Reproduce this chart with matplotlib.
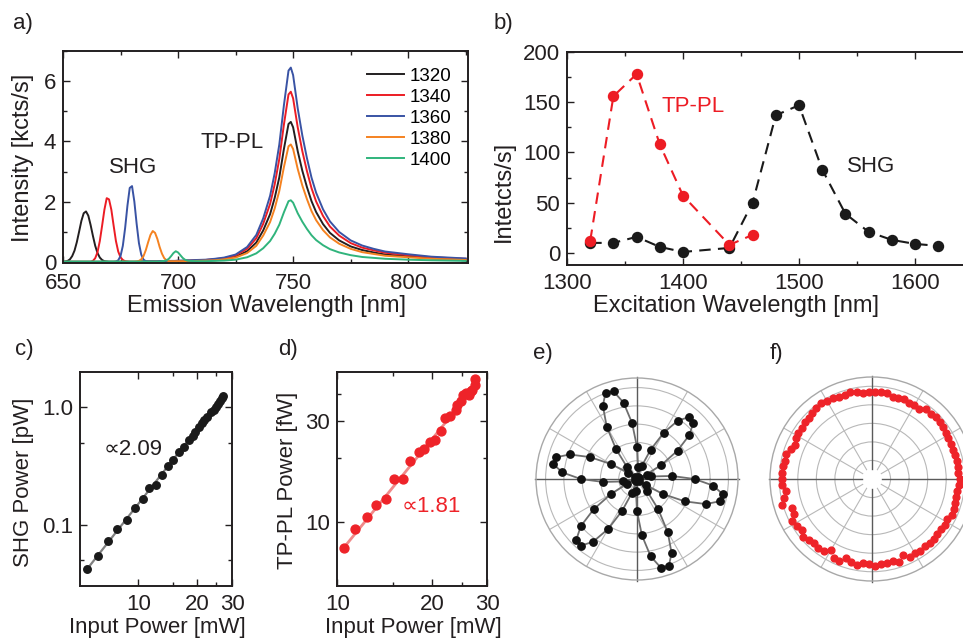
import numpy as np
import matplotlib
matplotlib.use('Agg')
import matplotlib.pyplot as plt
from matplotlib.ticker import MultipleLocator, FixedLocator, NullFormatter, FixedFormatter

plt.rcParams['font.family'] = ['Liberation Sans', 'DejaVu Sans']

# ---------------- panel a: emission spectra ----------------
wl = list(range(650, 706)) + [708, 712, 716, 720, 725, 730, 734, 737, 740, 742, 744, 746, 748,
                              749, 750, 752, 754, 756, 758, 760, 763, 766, 770, 775, 780, 785,
                              790, 800, 810, 825]
spec_labels = ['1320', '1340', '1360', '1380', '1400']
spec_colors = ['#231f20', '#ec1c24', '#3953a4', '#f58220', '#30b47c']

i_1320 = [0.01, 0.02, 0.04, 0.09, 0.20, 0.38, 0.66, 1.01, 1.37, 1.62,
          1.68, 1.54, 1.23, 0.87, 0.54, 0.30, 0.15, 0.07, 0.03, 0.02,
          0.01, 0.01, 0.01, 0.01, 0.01, 0.01, 0.01, 0.01, 0.01, 0.01,
          0.01, 0.01, 0.01, 0.01, 0.02, 0.02, 0.02, 0.02, 0.02, 0.02,
          0.02, 0.02, 0.02, 0.02, 0.02, 0.03, 0.03, 0.03, 0.03, 0.03,
          0.03, 0.03, 0.04, 0.04, 0.04, 0.04,
          0.05, 0.06, 0.08, 0.11, 0.18, 0.36, 0.65, 1.05, 1.59, 2.13,
          2.81, 3.75, 4.58, 4.65, 4.47, 3.68, 3.03, 2.49, 2.02, 1.66,
          1.26, 0.97, 0.72, 0.52, 0.40, 0.32, 0.25, 0.19, 0.13, 0.09]
i_1340 = [0.01, 0.01, 0.01, 0.01, 0.01, 0.01, 0.01, 0.01, 0.01, 0.01,
          0.01, 0.01, 0.01, 0.04, 0.13, 0.33, 0.70, 1.21, 1.74, 2.12,
          2.08, 1.74, 1.21, 0.70, 0.35, 0.16, 0.07, 0.03, 0.02, 0.01,
          0.01, 0.01, 0.01, 0.01, 0.02, 0.02, 0.02, 0.02, 0.02, 0.02,
          0.02, 0.02, 0.02, 0.02, 0.03, 0.03, 0.03, 0.03, 0.03, 0.04,
          0.04, 0.04, 0.04, 0.05, 0.05, 0.05,
          0.06, 0.07, 0.10, 0.13, 0.22, 0.44, 0.79, 1.27, 1.93, 2.58,
          3.42, 4.56, 5.56, 5.65, 5.43, 4.47, 3.68, 3.02, 2.45, 2.01,
          1.53, 1.18, 0.88, 0.63, 0.48, 0.39, 0.31, 0.23, 0.16, 0.11]
i_1360 = [0.01, 0.01, 0.01, 0.01, 0.01, 0.01, 0.01, 0.01, 0.01, 0.01,
          0.01, 0.01, 0.01, 0.01, 0.01, 0.01, 0.01, 0.01, 0.01, 0.01,
          0.01, 0.01, 0.01, 0.02, 0.06, 0.20, 0.54, 1.13, 1.87, 2.46,
          2.52, 2.01, 1.27, 0.63, 0.25, 0.08, 0.03, 0.02, 0.02, 0.02,
          0.02, 0.02, 0.03, 0.03, 0.03, 0.03, 0.04, 0.04, 0.04, 0.04,
          0.05, 0.05, 0.05, 0.06, 0.06, 0.06,
          0.07, 0.08, 0.11, 0.15, 0.25, 0.50, 0.90, 1.45, 2.20, 2.95,
          3.90, 5.20, 6.35, 6.45, 6.20, 5.10, 4.20, 3.45, 2.80, 2.30,
          1.75, 1.35, 1.00, 0.72, 0.55, 0.44, 0.35, 0.26, 0.18, 0.12]
i_1380 = [0.01, 0.01, 0.01, 0.01, 0.01, 0.01, 0.01, 0.01, 0.01, 0.01,
          0.01, 0.01, 0.01, 0.01, 0.01, 0.01, 0.01, 0.01, 0.01, 0.01,
          0.01, 0.01, 0.01, 0.01, 0.01, 0.01, 0.01, 0.01, 0.01, 0.01,
          0.01, 0.01, 0.02, 0.04, 0.09, 0.20, 0.40, 0.66, 0.90, 1.03,
          0.97, 0.77, 0.50, 0.28, 0.13, 0.06, 0.03, 0.03, 0.03, 0.03,
          0.03, 0.03, 0.03, 0.03, 0.04, 0.04,
          0.04, 0.05, 0.06, 0.09, 0.15, 0.30, 0.54, 0.88, 1.33, 1.78,
          2.36, 3.15, 3.84, 3.90, 3.75, 3.09, 2.54, 2.09, 1.69, 1.39,
          1.06, 0.82, 0.61, 0.44, 0.33, 0.27, 0.21, 0.16, 0.11, 0.07]
i_1400 = [0.02, 0.02, 0.02, 0.02, 0.02, 0.02, 0.02, 0.02, 0.02, 0.02,
          0.02, 0.02, 0.02, 0.02, 0.02, 0.02, 0.02, 0.02, 0.02, 0.02,
          0.02, 0.02, 0.02, 0.02, 0.02, 0.02, 0.02, 0.02, 0.02, 0.02,
          0.02, 0.02, 0.02, 0.02, 0.02, 0.02, 0.02, 0.02, 0.02, 0.02,
          0.02, 0.02, 0.02, 0.03, 0.04, 0.06, 0.11, 0.20, 0.30, 0.36,
          0.32, 0.23, 0.14, 0.08, 0.05, 0.04,
          0.03, 0.03, 0.04, 0.05, 0.08, 0.16, 0.29, 0.46, 0.70, 0.94,
          1.24, 1.65, 2.02, 2.05, 1.97, 1.62, 1.34, 1.10, 0.89, 0.73,
          0.56, 0.43, 0.32, 0.23, 0.17, 0.14, 0.11, 0.08, 0.06, 0.04]
spectra = [i_1320, i_1340, i_1360, i_1380, i_1400]

# ---------------- panel b: excitation dependence ----------------
shg_x = [1320, 1340, 1360, 1380, 1400, 1440, 1460, 1480, 1500, 1520, 1540, 1560, 1580, 1600, 1620]
shg_y = [10, 10, 16, 6, 1, 5, 50, 137, 147, 83, 39, 21, 13, 9, 7]
tppl_x = [1320, 1340, 1360, 1380, 1400, 1440, 1460]
tppl_y = [12, 156, 178, 108, 57, 8, 18]

# ---------------- panel c: SHG power dependence ----------------
c_pin = [5.47, 6.22, 6.99, 7.83, 8.73, 9.66, 10.6, 11.4, 12.25, 13.2, 14.2, 15.05, 16.1, 17.0,
         18.1, 18.9, 19.5, 20.3, 21.0, 21.6, 22.5, 23.5, 24.3, 24.9, 25.4, 26.1, 26.6, 27.1]
c_shg = [0.0415, 0.054, 0.073, 0.0914, 0.109, 0.139, 0.166, 0.205, 0.218, 0.265, 0.318, 0.358,
         0.42, 0.463, 0.525, 0.571, 0.62, 0.684, 0.735, 0.785, 0.82, 0.912, 0.943, 1.0, 1.07,
         1.14, 1.2, 1.26]
c_fit_p = [5.47, 27.1]
c_fit_s = [0.0415, 1.26]

# ---------------- panel d: TP-PL power dependence ----------------
d_pin = [10.5, 11.4, 12.4, 13.3, 14.3, 15.2, 16.2, 17.1, 18.2, 18.9, 19.8, 20.5, 21.4, 22.1,
         22.9, 23.9, 24.1, 24.8, 25.2, 25.7, 26.3, 26.7, 26.9, 27.4, 27.4]
d_pl = [7.56, 9.33, 10.56, 12.1, 12.9, 15.9, 15.9, 19.45, 21.3, 22.2, 23.9, 24.4, 27.0, 30.9,
        31.7, 33.6, 35.5, 37.1, 39.6, 40.6, 39.8, 41.3, 42.1, 44.1, 47.5]
d_fit_p = [10.5, 27.4]
d_fit_s = [7.6, 43.5]

# ---------------- panel e: SHG polarization (6-fold) ----------------
e_theta_deg = np.arange(0, 360, 5)
e_r = [0.57, 0.345, 0.144, 0.02, 0.01, 0.104, 0.28, 0.49, 0.676, 0.79, 0.80, 0.706,
       0.53, 0.32, 0.134, 0.02, 0.01, 0.118, 0.317, 0.556, 0.768, 0.898, 0.91, 0.80,
       0.60, 0.364, 0.152, 0.022, 0.009, 0.109, 0.293, 0.513, 0.71, 0.83, 0.84, 0.741,
       0.557, 0.337, 0.14, 0.02, 0.01, 0.111, 0.30, 0.525, 0.726, 0.85, 0.86, 0.759,
       0.57, 0.345, 0.144, 0.021, 0.01, 0.119, 0.32, 0.56, 0.777, 0.908, 0.92, 0.81,
       0.61, 0.368, 0.153, 0.022, 0.01, 0.111, 0.30, 0.525, 0.726, 0.85, 0.86, 0.759]

# ---------------- panel f: TP-PL polarization (isotropic) ----------------
f_theta_deg = np.arange(0, 360, 4)
f_r = [4.75, 4.64, 4.67, 4.69, 4.66, 4.63, 4.68, 4.66, 4.71, 4.74,
       4.77, 4.78, 4.75, 4.76, 4.57, 4.58, 4.53, 4.67, 4.62, 4.58,
       4.73, 4.69, 4.67, 4.67, 4.66, 4.79, 4.81, 4.76, 4.79, 4.83,
       4.87, 4.94, 4.88, 4.81, 4.75, 4.75, 4.68, 4.68, 4.66, 4.54,
       4.67, 4.81, 4.77, 4.86, 4.87, 4.85, 4.86, 4.71, 4.83, 5.05,
       4.60, 4.62, 4.86, 4.74, 4.67, 4.84, 4.73, 4.68, 4.69, 4.66,
       4.43, 4.72, 4.75, 4.49, 4.63, 4.70, 4.58, 4.60, 4.68, 4.62,
       4.62, 4.58, 4.73, 4.44, 4.70, 4.61, 4.66, 4.61, 4.68, 4.63,
       4.59, 4.59, 4.67, 4.61, 4.71, 4.69, 4.63, 4.61, 4.63, 4.69]

# =====================================================================
W, H = 963, 639
fig = plt.figure(figsize=(W / 100, H / 100), dpi=100)


def box(l, t, r, b):
    return [l / W, 1 - b / H, (r - l) / W, (b - t) / H]


def style(ax, fs, padx=6, pady=5):
    ax.tick_params(which='both', direction='in', top=True, right=True, width=1.0,
                   labelsize=fs, colors='#231f20')
    ax.tick_params(which='major', length=5)
    ax.tick_params(which='minor', length=3)
    ax.tick_params(axis='x', pad=padx)
    ax.tick_params(axis='y', pad=pady)
    for s in ax.spines.values():
        s.set_linewidth(1.4)
        s.set_color('#231f20')


def ftext(x, y, s, **kw):
    fig.text(x / W, 1 - y / H, s, ha='center', va='center', color='#231f20', **kw)


# ---- a ----
ax = fig.add_axes(box(63, 51, 468, 263))
for vals, lab, col in zip(spectra, spec_labels, spec_colors):
    ax.plot(wl, vals, color=col, lw=1.4, label=lab)
ax.set_xlim(650, 826)
ax.set_ylim(-0.03, 7.0)
ax.xaxis.set_major_locator(FixedLocator([650, 700, 750, 800]))
ax.xaxis.set_minor_locator(MultipleLocator(25))
ax.yaxis.set_major_locator(FixedLocator([0, 2, 4, 6]))
ax.yaxis.set_minor_locator(MultipleLocator(1))
style(ax, 16, padx=7.5)
ax.legend(loc='upper left', bbox_to_anchor=(0.75, 0.922), frameon=False, fontsize=13.5,
          handlelength=2.0, handletextpad=0.3, labelspacing=0.21, borderpad=0,
          borderaxespad=0)
ax.text(680.4, 3.15, 'SHG', fontsize=16, ha='center', va='center', color='#231f20')
ax.text(723.3, 3.98, 'TP-PL', fontsize=16, ha='center', va='center', color='#231f20')
ftext(266, 306, 'Emission Wavelength [nm]', fontsize=17)
ftext(23, 158, 'Intensity [kcts/s]', fontsize=17, rotation=90)
ftext(23, 24, 'a)', fontsize=16)

# ---- b ----
ax = fig.add_axes(box(567, 52, 973, 265))
dash = (0, (5.5, 3.5))
ax.plot(shg_x, shg_y, color='#1a1a1a', lw=1.5, ls=dash, marker='o', ms=7.2, zorder=2)
ax.plot(tppl_x, tppl_y, color='#ed1c24', lw=1.5, ls=dash, marker='o', ms=7.2, zorder=3)
ax.set_xlim(1300, 1650)
ax.set_ylim(-12, 200)
ax.xaxis.set_major_locator(FixedLocator([1300, 1400, 1500, 1600]))
ax.xaxis.set_minor_locator(MultipleLocator(50))
ax.yaxis.set_major_locator(MultipleLocator(50))
ax.yaxis.set_minor_locator(MultipleLocator(25))
style(ax, 16)
ax.text(1408.9, 145.6, 'TP-PL', fontsize=16, ha='center', va='center', color='#ed1c24')
ax.text(1561.9, 85.9, 'SHG', fontsize=16, ha='center', va='center', color='#231f20')
ftext(736, 306, 'Excitation Wavelength [nm]', fontsize=17)
ftext(504, 191, 'Intetcts/s]', fontsize=17, rotation=90)
ftext(503, 24, 'b)', fontsize=16)


def logstyle(ax, xmaj, xmin, ymaj, ylab, ymin):
    ax.set_xscale('log')
    ax.set_yscale('log')
    ax.xaxis.set_major_locator(FixedLocator(xmaj))
    ax.xaxis.set_major_formatter(FixedFormatter([str(v) for v in xmaj]))
    ax.xaxis.set_minor_locator(FixedLocator(xmin))
    ax.xaxis.set_minor_formatter(NullFormatter())
    ax.yaxis.set_major_locator(FixedLocator(ymaj))
    ax.yaxis.set_major_formatter(FixedFormatter(ylab))
    ax.yaxis.set_minor_locator(FixedLocator(ymin))
    ax.yaxis.set_minor_formatter(NullFormatter())


# ---- c ----
ax = fig.add_axes(box(80, 372, 232, 586))
ax.plot(c_fit_p, c_fit_s, color='#808080', lw=1.6, zorder=2)
ax.plot(c_pin, c_shg, 'o', color='#1a1a1a', ms=5.4, zorder=3)
logstyle(ax, [10, 20, 30], [15, 25], [0.1, 1.0], ['0.1', '1.0'], [0.05, 0.5])
ax.set_xlim(5.05, 30)
ax.set_ylim(0.03, 2.0)
style(ax, 16)
ax.text(9.46, 0.436, '\u221d2.09', fontsize=16, ha='center', va='center', color='#231f20')
ftext(157, 628, 'Input Power [mW]', fontsize=16)
ftext(24, 482, 'SHG Power [pW]', fontsize=16, rotation=90)
ftext(24, 350, 'c)', fontsize=16)

# ---- d ----
ax = fig.add_axes(box(337, 372, 487, 586))
ax.plot(d_fit_p, d_fit_s, color='#f08a8a', lw=2.0, zorder=2)
ax.plot(d_pin, d_pl, 'o', color='#ee2329', ms=6.4, zorder=3)
logstyle(ax, [10, 20, 30], [15, 25], [10, 30], ['10', '30'], [20, 40])
ax.set_xlim(9.97, 30.0)
ax.set_ylim(5, 51)
style(ax, 16)
ax.text(20.0, 11.8, '\u221d1.81', fontsize=16, ha='center', va='center', color='#ee2329')
ftext(413, 628, 'Input Power [mW]', fontsize=16)
ftext(287, 480, 'TP-PL Power [fW]', fontsize=16, rotation=90)
ftext(288, 350, 'd)', fontsize=16)


# ---- polar panels ----
def polar_frame(ax, rmax, rgrid, hole=0.0):
    ax.set_ylim(0, rmax)
    ax.set_yticks(rgrid)
    ax.set_yticklabels([])
    ax.set_xticks(np.deg2rad([30, 60, 120, 150, 210, 240, 300, 330]))
    ax.set_xticklabels([])
    ax.tick_params(length=0)
    ax.set_axisbelow(True)
    ax.grid(True, color='#b8b8b8', lw=0.8)
    ax.spines['polar'].set_color('#a8a8a8')
    ax.spines['polar'].set_linewidth(1.0)
    if hole > 0:
        t = np.linspace(0, 2 * np.pi, 100)
        ax.fill(t, np.full(100, hole), color='white', zorder=1, lw=0)
    for a in (0, 0.5 * np.pi, np.pi, 1.5 * np.pi):
        ax.plot([a, a], [hole, rmax * 1.01], color='#5a5a5a', lw=1.0, zorder=1.5, clip_on=False)


ax = fig.add_axes(box(536, 378, 738, 580), projection='polar')
polar_frame(ax, 1.0, [0.181, 0.362, 0.543, 0.724, 0.905])
th = np.deg2rad(e_theta_deg)
ax.plot(np.append(th, th[0]), np.append(e_r, e_r[0]), color='#6e6e6e', lw=1.3, zorder=2)
ax.plot(th, e_r, 'o', color='#111111', ms=5.3, zorder=3)
ftext(543, 354, 'e)', fontsize=16)

ax = fig.add_axes(box(770, 377, 974, 581), projection='polar')
polar_frame(ax, 5.5, [1, 2, 3, 4, 5], hole=0.55)
ax.plot(np.deg2rad(f_theta_deg), f_r, 'o', color='#ee2329', ms=4.9, zorder=3)
ftext(776, 354, 'f)', fontsize=16)

fig.savefig('out.png', dpi=100)
